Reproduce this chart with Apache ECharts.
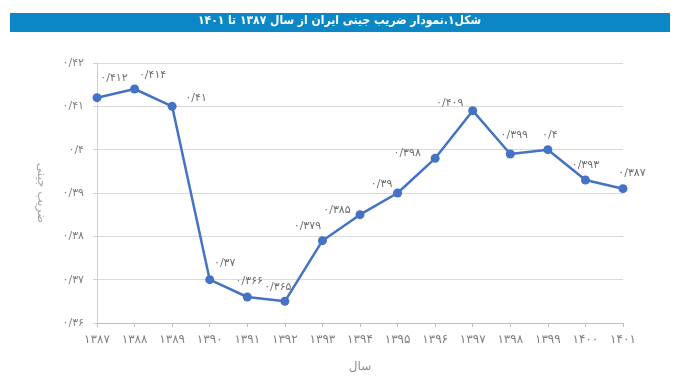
<!DOCTYPE html>
<html>
<head>
<meta charset="utf-8">
<script src="https://cdn.jsdelivr.net/npm/echarts@6/dist/echarts.min.js"></script>
<style>
html,body{margin:0;padding:0;background:#fff;}
#chart{width:679px;height:382px;}
</style>
</head>
<body>
<div id="chart"></div>
<script>
var titleText = 'شکل۱.نمودار ضریب جینی ایران از سال ۱۳۸۷ تا ۱۴۰۱';
var yAxisName = 'ضریب جینی';
var xAxisName = 'سال';
var years = ['۱۳۸۷','۱۳۸۸','۱۳۸۹','۱۳۹۰','۱۳۹۱','۱۳۹۲','۱۳۹۳','۱۳۹۴','۱۳۹۵','۱۳۹۶','۱۳۹۷','۱۳۹۸','۱۳۹۹','۱۴۰۰','۱۴۰۱'];
// plotted positions
var gini = [0.412, 0.414, 0.41, 0.37, 0.366, 0.365, 0.379, 0.385, 0.39, 0.398, 0.409, 0.399, 0.4, 0.393, 0.391];
// printed data labels as shown in the picture
var giniLabels = ['۰/۴۱۲','۰/۴۱۴','۰/۴۱','۰/۳۷','۰/۳۶۶','۰/۳۶۵','۰/۳۷۹','۰/۳۸۵','۰/۳۹','۰/۳۹۸','۰/۴۰۹','۰/۳۹۹','۰/۴','۰/۳۹۳','۰/۳۸۷'];
var labelOffsets = [[17,-5],[18,1],[24,7],[15,-2],[2,-1],[-7,1],[-15,0],[-23,10],[-16,6],[-28,10],[-23,7],[4,-4],[2,0],[0,0],[9,-1]];

var fa = '۰۱۲۳۴۵۶۷۸۹';
function toFa(v){
  var s = String(Number(Number(v).toFixed(3)));
  return s.replace(/\d/g, function(d){return fa[+d];}).replace('.', '/');
}

var chart = echarts.init(document.getElementById('chart'));
var font = 'DejaVu Sans';
chart.setOption({
  animation: false,
  textStyle: {fontFamily: font},
  graphic: [
    {type:'rect', left:10, top:13, shape:{width:660, height:19}, style:{fill:'#0b87c5'}},
    {type:'text', left:'center', top:15, style:{text:titleText, fill:'#fff', font:'bold 12px "DejaVu Sans Condensed", "DejaVu Sans"'}}
  ],
  grid: {left:97, right:56, top:63, bottom:59},
  xAxis: {
    type:'category', data: years, boundaryGap:false,
    name: xAxisName, nameLocation:'middle', nameGap:38,
    nameTextStyle:{color:'#8c8c8c', fontSize:12},
    axisLine:{lineStyle:{color:'#bfbfbf'}},
    axisTick:{show:true, length:4, lineStyle:{color:'#bfbfbf'}},
    axisLabel:{color:'#7f7f7f', fontSize:12, margin:11}
  },
  yAxis: {
    type:'value', min:0.36, max:0.42, interval:0.01,
    name: yAxisName, nameLocation:'middle', nameRotate:-90, nameGap:50,
    nameTextStyle:{color:'#a5a5a5', fontSize:12},
    axisLine:{show:true, lineStyle:{color:'#d0d0d0'}},
    axisTick:{show:true, length:4, lineStyle:{color:'#d0d0d0'}},
    splitLine:{lineStyle:{color:'#dadada'}},
    axisLabel:{color:'#7f7f7f', fontSize:11, margin:13, formatter:function(v){return toFa(v);}}
  },
  series: [{
    type:'line',
    data: gini.map(function(v,i){
      return {value:v, label:{offset:labelOffsets[i]}};
    }),
    symbol:'circle', symbolSize:9,
    lineStyle:{color:'#4472c4', width:2.5},
    itemStyle:{color:'#4472c4'},
    label:{show:true, position:'top', distance:5, color:'#6e6e6e', fontSize:11,
      formatter:function(p){return giniLabels[p.dataIndex];}}
  }]
});
</script>
</body>
</html>
